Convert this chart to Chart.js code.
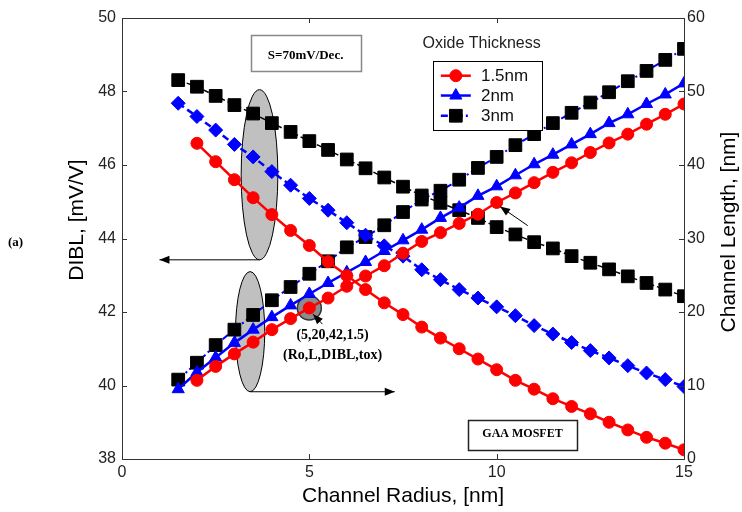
<!DOCTYPE html>
<html>
<head>
<meta charset="utf-8">
<script src="https://cdn.jsdelivr.net/npm/chart.js@4.4.1/dist/chart.umd.min.js"></script>
<style>
  body { margin: 0; background: #fff; }
  canvas { display: block; }
</style>
</head>
<body>
<canvas id="grafico" width="742" height="512"></canvas>
<script>
// channel radius [nm]
const radiusA = [1.5, 2, 2.5, 3, 3.5, 4, 4.5, 5, 5.5, 6, 6.5, 7, 7.5, 8, 8.5, 9, 9.5, 10, 10.5, 11, 11.5, 12, 12.5, 13, 13.5, 14, 14.5, 15];
const radiusB = [2, 2.5, 3, 3.5, 4, 4.5, 5, 5.5, 6, 6.5, 7, 7.5, 8, 8.5, 9, 9.5, 10, 10.5, 11, 11.5, 12, 12.5, 13, 13.5, 14, 14.5, 15];

// DIBL [mV/V] (left axis)
const dibl15 = [46.59, 46.09, 45.60, 45.11, 44.65, 44.22, 43.81, 43.37, 42.99, 42.61, 42.25, 41.93, 41.59, 41.29, 41.00, 40.72, 40.43, 40.14, 39.90, 39.64, 39.43, 39.23, 39.00, 38.79, 38.59, 38.43, 38.25];
const dibl2 = [47.68, 47.32, 46.95, 46.56, 46.22, 45.82, 45.45, 45.09, 44.77, 44.43, 44.09, 43.80, 43.52, 43.15, 42.88, 42.61, 42.38, 42.14, 41.90, 41.63, 41.40, 41.17, 40.95, 40.75, 40.54, 40.34, 40.16, 39.97];
const dibl3 = [48.31, 48.13, 47.88, 47.63, 47.40, 47.14, 46.90, 46.65, 46.41, 46.15, 45.91, 45.66, 45.41, 45.17, 44.97, 44.77, 44.56, 44.31, 44.11, 43.90, 43.73, 43.52, 43.34, 43.16, 42.97, 42.79, 42.61, 42.43];

// channel length [nm] (right axis)
const len15 = [10.7, 12.6, 14.3, 15.9, 17.6, 19.1, 20.55, 21.9, 23.5, 24.9, 26.3, 28.0, 29.6, 30.8, 32.05, 33.3, 34.9, 36.2, 37.6, 39.0, 40.3, 41.7, 43.0, 44.2, 45.55, 46.9, 48.3];
const len2 = [9.5, 11.8, 13.8, 15.8, 17.6, 19.3, 20.9, 22.45, 23.95, 25.4, 26.8, 28.3, 29.75, 31.2, 32.8, 34.2, 35.8, 37.1, 38.6, 40.1, 41.4, 42.8, 44.2, 45.7, 46.9, 48.3, 49.6, 51.1];
const len3 = [10.8, 13.1, 15.5, 17.6, 19.6, 21.6, 23.4, 25.2, 26.9, 28.8, 30.2, 31.8, 33.6, 35.3, 36.5, 38.0, 39.6, 41.1, 42.7, 44.2, 45.7, 47.1, 48.5, 49.9, 51.4, 52.8, 54.3, 55.8];

const legendLabels = ['1.5nm', '2nm', '3nm'];
const xTicks = [0, 5, 10, 15];
const yTicks = [38, 40, 42, 44, 46, 48, 50];
const y2Ticks = [0, 10, 20, 30, 40, 50, 60];

const RED = '#ff0000';
const BLUE = '#0000ff';
const BLACK = '#000000';
const FONT = '"Liberation Sans", Arial, sans-serif';
const SERIF = '"Liberation Serif", "Times New Roman", serif';

const pares = (xs, ys) => xs.map((x, i) => ({ x: x, y: ys[i] }));

const serie = (data, eixo, cor, corPonto, estilo, raio, dash, largura) => ({
    data: data,
    yAxisID: eixo,
    borderColor: cor,
    borderWidth: largura,
    borderDash: dash,
    backgroundColor: corPonto,
    pointBackgroundColor: corPonto,
    pointBorderColor: corPonto,
    pointBorderWidth: 1,
    pointStyle: estilo,
    pointRadius: raio,
    pointHoverRadius: raio,
    tension: 0,
    fill: false
});

// anotacoes: elipses, caixas de texto, setas
const anotacoes = {
    id: 'anotacoes',
    beforeDatasetsDraw(chart) {
        const ctx = chart.ctx;
        const xs = chart.scales.x, ys = chart.scales.y, y2 = chart.scales.y2;
        const px = v => xs.getPixelForValue(v), py = v => ys.getPixelForValue(v);

        ctx.save();
        const elipse = (x0, x1, yA, yB) => {
            const cx = (px(x0) + px(x1)) / 2, cy = (py(yA) + py(yB)) / 2;
            const rx = Math.abs(px(x1) - px(x0)) / 2, ry = Math.abs(py(yB) - py(yA)) / 2;
            ctx.beginPath();
            ctx.ellipse(cx, cy, rx, ry, 0, 0, Math.PI * 2);
            ctx.fillStyle = '#c0c0c0';
            ctx.fill();
            ctx.strokeStyle = '#000';
            ctx.lineWidth = 1;
            ctx.stroke();
        };
        elipse(3.18, 4.16, 48.05, 43.42);
        elipse(3.03, 3.81, 43.10, 39.83);

        // circulo cinza no ponto (5, 20)
        ctx.beginPath();
        ctx.arc(px(5), y2.getPixelForValue(20.55), 12, 0, Math.PI * 2);
        ctx.fillStyle = '#8c8c8c';
        ctx.fill();
        ctx.strokeStyle = '#333';
        ctx.lineWidth = 1.5;
        ctx.stroke();
        ctx.restore();
    },
    afterDraw(chart) {
        const ctx = chart.ctx;
        const a = chart.chartArea;
        const xs = chart.scales.x, ys = chart.scales.y, y2 = chart.scales.y2;
        const px = v => xs.getPixelForValue(v), py = v => ys.getPixelForValue(v);

        ctx.save();

        // moldura
        ctx.strokeStyle = '#333';
        ctx.lineWidth = 1;
        ctx.strokeRect(Math.round(a.left) + 0.5, Math.round(a.top) + 0.5, Math.round(a.right - a.left), Math.round(a.bottom - a.top));

        // marcas para dentro
        ctx.beginPath();
        xTicks.forEach(v => {
            const x = Math.round(px(v)) + 0.5;
            ctx.moveTo(x, a.bottom); ctx.lineTo(x, a.bottom - 5);
            ctx.moveTo(x, a.top); ctx.lineTo(x, a.top + 5);
        });
        yTicks.forEach(v => {
            const y = Math.round(py(v)) + 0.5;
            ctx.moveTo(a.left, y); ctx.lineTo(a.left + 5, y);
        });
        y2Ticks.forEach(v => {
            const y = Math.round(y2.getPixelForValue(v)) + 0.5;
            ctx.moveTo(a.right, y); ctx.lineTo(a.right - 5, y);
        });
        ctx.stroke();

        // setas
        const seta = (x0, y0, x1, y1) => {
            ctx.beginPath();
            ctx.moveTo(x0, y0);
            ctx.lineTo(x1, y1);
            ctx.strokeStyle = '#000';
            ctx.lineWidth = 1;
            ctx.stroke();
            const ang = Math.atan2(y1 - y0, x1 - x0);
            ctx.beginPath();
            ctx.moveTo(x1, y1);
            ctx.lineTo(x1 - 10 * Math.cos(ang) + 4 * Math.sin(ang), y1 - 10 * Math.sin(ang) - 4 * Math.cos(ang));
            ctx.lineTo(x1 - 10 * Math.cos(ang) - 4 * Math.sin(ang), y1 - 10 * Math.sin(ang) + 4 * Math.cos(ang));
            ctx.closePath();
            ctx.fillStyle = '#000';
            ctx.fill();
        };
        seta(px(3.67), py(43.42), px(1.0), py(43.42));
        seta(px(3.42), py(39.83), px(7.28), py(39.83));
        seta(px(5.35), py(41.67), px(5.10), py(41.94));
        seta(px(10.83), py(44.35), px(10.09), py(44.87));

        // caixas de texto
        const caixa = (x0, x1, yA, yB, cor, larg) => {
            ctx.fillStyle = '#fff';
            ctx.fillRect(px(x0), py(yA), px(x1) - px(x0), py(yB) - py(yA));
            ctx.strokeStyle = cor;
            ctx.lineWidth = larg;
            ctx.strokeRect(Math.round(px(x0)) + 0.5, Math.round(py(yA)) + 0.5, Math.round(px(x1) - px(x0)), Math.round(py(yB) - py(yA)));
        };
        caixa(3.43, 6.37, 49.55, 48.57, '#888', 1.5);
        caixa(9.23, 12.14, 39.06, 38.25, '#222', 1.5);

        ctx.fillStyle = '#000';
        ctx.textAlign = 'center';
        ctx.textBaseline = 'middle';
        ctx.font = 'bold 13px ' + SERIF;
        ctx.fillText('S=70mV/Dec.', px(4.9), py(48.98));
        ctx.font = 'bold 12px ' + SERIF;
        ctx.fillText('GAA MOSFET', px(10.69), py(38.68));
        ctx.font = 'bold 14px ' + SERIF;
        ctx.fillText('(5,20,42,1.5)', px(5.62), py(41.35));
        ctx.fillText('(Ro,L,DIBL,tox)', px(5.62), py(40.83));

        // legenda
        ctx.fillStyle = '#222';
        ctx.textAlign = 'left';
        ctx.font = '16px ' + FONT;
        ctx.fillText('Oxide Thickness', px(8.02), py(49.31));
        caixa(8.30, 11.21, 48.82, 46.94, '#000', 1);
        const itens = [
            { cor: RED, ponto: RED, estilo: 'circle', raio: 6, dash: [] },
            { cor: BLUE, ponto: BLUE, estilo: 'triangle', raio: 7, dash: [] },
            { cor: BLUE, ponto: BLACK, estilo: 'rect', raio: 9, dash: [7, 3, 2, 3] }
        ];
        const linhasY = [48.43, 47.89, 47.34];
        itens.forEach((it, i) => {
            const y = py(linhasY[i]);
            ctx.beginPath();
            ctx.setLineDash(it.dash);
            ctx.moveTo(px(8.51), y);
            ctx.lineTo(px(9.31), y);
            ctx.strokeStyle = it.cor;
            ctx.lineWidth = 2.5;
            ctx.stroke();
            ctx.setLineDash([]);
            ctx.fillStyle = it.ponto;
            ctx.strokeStyle = it.ponto;
            ctx.lineWidth = 1;
            Chart.helpers.drawPoint(ctx, { pointStyle: it.estilo, radius: it.raio, rotation: 0, borderWidth: 1 }, px(8.91), y);
            ctx.fillStyle = '#111';
            ctx.font = '17px ' + FONT;
            ctx.fillText(legendLabels[i], px(9.58), y + 1);
        });

        // titulos dos eixos
        ctx.fillStyle = '#000';
        ctx.font = '21px ' + FONT;
        ctx.textAlign = 'center';
        ctx.fillText('Channel Radius, [nm]', (a.left + a.right) / 2, 496);
        ctx.save();
        ctx.translate(77, 220);
        ctx.rotate(-Math.PI / 2);
        ctx.fillText('DIBL, [mV/V]', 0, 0);
        ctx.restore();
        ctx.save();
        ctx.translate(729, 232);
        ctx.rotate(-Math.PI / 2);
        ctx.fillText('Channel Length, [nm]', 0, 0);
        ctx.restore();

        ctx.font = 'bold 13px ' + SERIF;
        ctx.textAlign = 'left';
        ctx.fillText('(a)', 8, 243);

        ctx.restore();
    }
};

const tickFont = { family: FONT, size: 16 };

new Chart(document.getElementById('grafico').getContext('2d'), {
    type: 'line',
    data: {
        datasets: [
            serie(pares(radiusB, dibl15), 'y', RED, RED, 'circle', 6, [], 2.5),
            serie(pares(radiusB, len15), 'y2', RED, RED, 'circle', 6, [], 2.5),
            serie(pares(radiusA, len2), 'y2', BLUE, BLUE, 'triangle', 7, [], 2.5),
            serie(pares(radiusA, dibl2), 'y', BLUE, BLUE, 'rectRot', 7, [7, 4], 2.5),
            serie(pares(radiusA, len3), 'y2', BLUE, BLACK, 'rect', 9, [7, 3, 2, 3], 2),
            serie(pares(radiusA, dibl3), 'y', BLACK, BLACK, 'rect', 9, [6, 3], 1.5)
        ]
    },
    options: {
        responsive: false,
        animation: false,
        layout: { padding: { top: 18, left: 0, right: 0, bottom: 0 } },
        plugins: { legend: { display: false }, tooltip: { enabled: false } },
        scales: {
            x: {
                type: 'linear',
                min: 0, max: 15,
                afterBuildTicks: s => { s.ticks = xTicks.map(v => ({ value: v })); },
                afterFit: s => { s.height = 53; },
                grid: { display: false, drawTicks: false },
                border: { display: false },
                ticks: { font: tickFont, color: '#222', padding: 4, maxRotation: 0 }
            },
            y: {
                position: 'left',
                min: 38, max: 50,
                afterBuildTicks: s => { s.ticks = yTicks.map(v => ({ value: v })); },
                afterFit: s => { s.width = 122; },
                grid: { display: false, drawTicks: false },
                border: { display: false },
                ticks: { font: tickFont, color: '#222', padding: 6 }
            },
            y2: {
                position: 'right',
                min: 0, max: 60,
                afterBuildTicks: s => { s.ticks = y2Ticks.map(v => ({ value: v })); },
                afterFit: s => { s.width = 58; },
                grid: { display: false, drawTicks: false },
                border: { display: false },
                ticks: { font: tickFont, color: '#222', padding: 3 }
            }
        }
    },
    plugins: [anotacoes]
});
</script>
</body>
</html>
